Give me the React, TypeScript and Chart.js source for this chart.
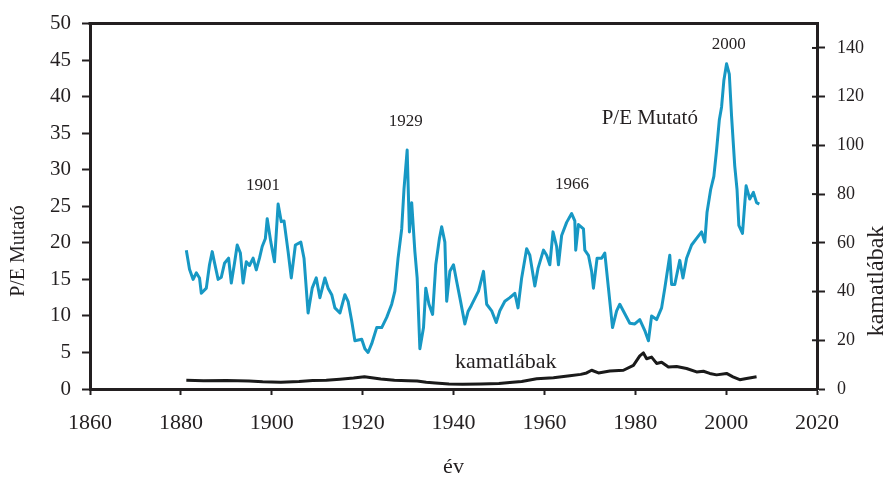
import React, { useEffect, useRef } from "react";
import { Chart, registerables } from "chart.js";

Chart.register(...registerables);

// ---- Data ----
const peYears = [
  1881.2, 1881.9, 1882.7, 1883.4, 1884.1, 1884.5, 1885.6, 1886.3, 1886.9, 1887.4,
  1888.2, 1888.9, 1889.6, 1890.5, 1891.1, 1891.8, 1892.4, 1893.1, 1893.7, 1894.4,
  1895.1, 1895.9, 1896.6, 1897.3, 1897.9, 1898.6, 1899.0, 1899.8, 1900.6, 1901.4,
  1902.1, 1902.7, 1903.6, 1904.3, 1905.2, 1906.4, 1907.1, 1908.0, 1908.9, 1909.8,
  1910.6, 1911.7, 1912.4, 1913.2, 1913.9, 1915.0, 1916.1, 1916.8, 1917.6, 1918.3,
  1919.8, 1920.5, 1921.2, 1922.0, 1923.1, 1924.2, 1925.3, 1926.4, 1927.1, 1927.8,
  1928.6, 1929.1, 1929.8, 1930.3, 1930.8, 1931.5, 1932.0, 1932.6, 1933.4, 1933.9,
  1934.6, 1935.4, 1936.1, 1936.9, 1937.4, 1938.1, 1938.5, 1939.2, 1940.0, 1940.7,
  1941.4, 1942.5, 1943.2, 1943.9, 1945.5, 1946.6, 1947.3, 1948.4, 1949.4, 1950.2,
  1951.3, 1952.4, 1953.5, 1954.2, 1955.0, 1956.1, 1956.8, 1957.9, 1958.6, 1959.8,
  1960.5, 1961.2, 1961.9, 1962.7, 1963.1, 1963.8, 1964.9, 1966.0, 1966.7, 1966.9,
  1967.5, 1968.6, 1968.9, 1969.7, 1970.4, 1970.8, 1971.6, 1972.6, 1973.3, 1974.1,
  1975.0, 1975.9, 1976.6, 1977.7, 1978.8, 1979.9, 1981.0, 1982.1, 1982.9, 1983.6,
  1984.7, 1985.8, 1986.5, 1987.6, 1988.0, 1988.7, 1989.8, 1990.5, 1991.3, 1992.4,
  1993.5, 1994.6, 1995.3, 1995.8, 1996.6, 1997.3, 1997.9, 1998.5, 1999.0, 1999.5,
  2000.1, 2000.7, 2001.2, 2001.9, 2002.4, 2002.8, 2003.6, 2004.4, 2005.2, 2006.0,
  2006.7, 2007.3,
];
const peValues = [
  19.0, 16.4, 15.0, 15.9, 15.2, 13.1, 13.8, 17.0, 18.8, 17.3,
  15.0, 15.3, 17.2, 17.9, 14.5, 17.2, 19.7, 18.6, 14.5, 17.4,
  16.9, 17.9, 16.3, 17.9, 19.5, 20.6, 23.3, 20.1, 17.4, 25.3,
  22.9, 23.0, 18.8, 15.2, 19.7, 20.1, 17.9, 10.4, 13.8, 15.2,
  12.5, 15.2, 13.8, 12.9, 11.1, 10.4, 12.9, 12.0, 9.3, 6.6,
  6.8, 5.5, 5.0, 6.2, 8.4, 8.4, 9.8, 11.6, 13.4, 17.9,
  21.9, 27.3, 32.7, 21.5, 25.5, 18.8, 15.2, 5.5, 8.4, 13.8,
  11.6, 10.2, 17.0, 20.6, 22.2, 20.1, 12.0, 16.1, 17.0, 14.7,
  12.5, 8.9, 10.6, 11.4, 13.4, 16.1, 11.6, 10.7, 9.1, 10.7,
  12.0, 12.5, 13.1, 11.1, 15.2, 19.2, 18.3, 14.1, 16.5, 19.0,
  18.3, 17.0, 21.5, 19.5, 17.0, 21.0, 22.8, 24.0, 23.0, 19.0,
  22.5, 21.9, 19.0, 18.3, 16.1, 13.8, 17.9, 17.9, 18.6, 13.8,
  8.4, 10.7, 11.6, 10.3, 9.0, 8.9, 9.5, 8.0, 6.6, 10.0,
  9.5, 11.1, 13.8, 18.3, 14.3, 14.3, 17.6, 15.2, 17.9, 19.7,
  20.6, 21.5, 20.1, 24.2, 27.3, 29.1, 32.7, 36.8, 38.6, 42.2,
  44.5, 43.1, 37.3, 30.5, 27.3, 22.4, 21.3, 27.8, 26.0, 26.9,
  25.5, 25.3,
];

const rateYears = [
  1881.2, 1885, 1890, 1895, 1898, 1902, 1906, 1909, 1912, 1915,
  1918, 1920.4, 1922, 1924, 1927, 1930, 1932, 1934, 1936, 1939,
  1942, 1946, 1950, 1953, 1955, 1958.3, 1962, 1965.6, 1968, 1969.3,
  1970.4, 1971.9, 1974.4, 1977.4, 1979.6, 1981.0, 1981.8, 1982.5, 1983.6, 1984.7,
  1985.8, 1987.3, 1989.1, 1991.3, 1993.5, 1995, 1996.4, 1997.9, 2000.1, 2001.5,
  2003, 2004.5, 2006.7,
];
const rateValues = [
  3.6, 3.4, 3.5, 3.3, 3.0, 2.8, 3.1, 3.5, 3.6, 4.0,
  4.5, 5.0, 4.6, 4.1, 3.6, 3.4, 3.3, 2.8, 2.5, 2.1,
  2.0, 2.1, 2.3, 2.8, 3.1, 4.2, 4.6, 5.4, 6.0, 6.6,
  7.7, 6.6, 7.4, 7.7, 9.7, 13.6, 14.8, 12.4, 13.1, 10.5,
  11.0, 9.0, 9.2, 8.4, 7.0, 7.3, 6.4, 5.8, 6.4, 5.0,
  3.8, 4.3, 5.0,
];

const xTicks = [1860, 1880, 1900, 1920, 1940, 1960, 1980, 2000, 2020];
const peTicks = [0, 5, 10, 15, 20, 25, 30, 35, 40, 45, 50];
const rateTicks = [0, 20, 40, 60, 80, 100, 120, 140];

const annoTexts = ["1901", "1929", "1966", "2000", "P/E Mutató", "kamatlábak"];
const annoYears = [1898.1, 1929.5, 1966.1, 2000.6, 1983.2, 1951.5];
const annoValues = [27.8, 36.6, 28.0, 47.2, 37.0, 3.65];

const leftTitle = "P/E Mutató";
const rightTitle = "kamatlábak";
const xTitle = "év";

// ---- Styles ----
const FONT = "'Liberation Serif', 'Times New Roman', serif";
const INK = "#231f20";
const BLUE = "#1798c4";
const annoSizes = [17, 17, 17, 17, 21, 22];

const decorPlugin = {
  id: "decor",
  afterDraw(chart: any) {
    const ctx = chart.ctx;
    const area = chart.chartArea;
    const xs = chart.scales.x;
    const ys = chart.scales.y;
    const y2 = chart.scales.y2;
    ctx.save();
    // top frame line
    ctx.strokeStyle = INK;
    ctx.lineWidth = 3;
    ctx.beginPath();
    ctx.moveTo(area.left - 1.5, area.top);
    ctx.lineTo(area.right + 1.5, area.top);
    ctx.stroke();
    // inner part of right-axis ticks
    ctx.lineWidth = 2;
    rateTicks.forEach((v) => {
      const py = y2.getPixelForValue(v);
      ctx.beginPath();
      ctx.moveTo(area.right - 5, py);
      ctx.lineTo(area.right, py);
      ctx.stroke();
    });
    // annotations
    ctx.fillStyle = INK;
    ctx.textAlign = "center";
    ctx.textBaseline = "middle";
    annoTexts.forEach((t, i) => {
      ctx.font = `${annoSizes[i]}px ${FONT}`;
      ctx.fillText(t, xs.getPixelForValue(annoYears[i]), ys.getPixelForValue(annoValues[i]));
    });
    // axis titles (rotated)
    ctx.font = `20px ${FONT}`;
    ctx.save();
    ctx.translate(19, 251);
    ctx.rotate(-Math.PI / 2);
    ctx.fillText(leftTitle, 0, 0);
    ctx.restore();
    ctx.font = `24px ${FONT}`;
    ctx.save();
    ctx.translate(877, 281);
    ctx.rotate(-Math.PI / 2);
    ctx.fillText(rightTitle, 0, 0);
    ctx.restore();
    ctx.restore();
  },
};

export default function App() {
  const canvasRef = useRef<HTMLCanvasElement | null>(null);

  useEffect(() => {
    document.body.style.margin = "0";
    const canvas = canvasRef.current;
    if (!canvas) return;
    const pePoints = peYears.map((x, i) => ({ x, y: peValues[i] }));
    const ratePoints = rateYears.map((x, i) => ({ x, y: rateValues[i] }));

    const chart = new Chart(canvas, {
      type: "line",
      data: {
        datasets: [
          {
            label: "P/E Mutató",
            data: pePoints,
            yAxisID: "y",
            borderColor: BLUE,
            borderWidth: 3,
            borderJoinStyle: "round",
            pointRadius: 0,
            tension: 0,
            fill: false,
          },
          {
            label: "kamatlábak",
            data: ratePoints,
            yAxisID: "y2",
            borderColor: "#1a1a1a",
            borderWidth: 3,
            borderJoinStyle: "round",
            pointRadius: 0,
            tension: 0,
            fill: false,
          },
        ],
      },
      options: {
        responsive: false,
        animation: false,
        devicePixelRatio: 1,
        layout: { padding: { top: 19, left: 0, right: 0, bottom: 0 } },
        plugins: { legend: { display: false }, tooltip: { enabled: false } },
        scales: {
          x: {
            type: "linear",
            min: 1860,
            max: 2020,
            afterBuildTicks: (s: any) => {
              s.ticks = xTicks.map((v) => ({ value: v }));
            },
            afterFit: (s: any) => {
              s.height = 88;
            },
            ticks: {
              font: { family: FONT, size: 22 },
              color: INK,
              padding: 15,
              maxRotation: 0,
              autoSkip: false,
              callback: (v: any) => String(v),
            },
            grid: {
              drawOnChartArea: false,
              drawTicks: true,
              tickLength: 6,
              tickWidth: 2,
              tickColor: INK,
            },
            border: { display: true, color: INK, width: 3 },
            title: {
              display: true,
              text: xTitle,
              font: { family: FONT, size: 22 },
              color: INK,
              padding: { top: 0, bottom: -3 },
            },
          },
          y: {
            position: "left",
            min: 0,
            max: 50,
            afterBuildTicks: (s: any) => {
              s.ticks = peTicks.map((v) => ({ value: v }));
            },
            afterFit: (s: any) => {
              s.width = 90;
            },
            ticks: {
              font: { family: FONT, size: 21 },
              color: INK,
              padding: 11,
              callback: (v: any) => String(v),
            },
            grid: {
              drawOnChartArea: false,
              drawTicks: true,
              tickLength: 8,
              tickWidth: 2,
              tickColor: INK,
            },
            border: { display: true, color: INK, width: 3 },
          },
          y2: {
            position: "right",
            min: 0,
            max: 150,
            afterBuildTicks: (s: any) => {
              s.ticks = rateTicks.map((v) => ({ value: v }));
            },
            afterFit: (s: any) => {
              s.width = 73;
            },
            ticks: {
              font: { family: FONT, size: 18 },
              color: INK,
              padding: 12,
              callback: (v: any) => String(v),
            },
            grid: {
              drawOnChartArea: false,
              drawTicks: true,
              tickLength: 8,
              tickWidth: 2,
              tickColor: INK,
            },
            border: { display: true, color: INK, width: 3 },
          },
        },
      },
      plugins: [decorPlugin],
    } as any);

    return () => chart.destroy();
  }, []);

  return (
    <div style={{ width: 890, height: 477 }}>
      <canvas ref={canvasRef} width={890} height={477} style={{ display: "block" }} />
    </div>
  );
}
